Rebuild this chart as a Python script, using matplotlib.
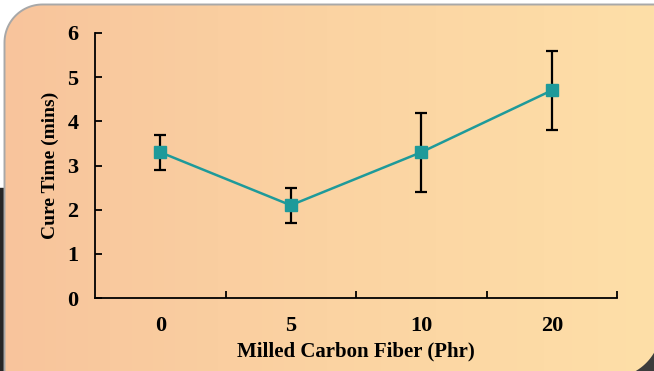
import numpy as np
import matplotlib.pyplot as plt
from matplotlib.patches import Polygon, Rectangle
from matplotlib.colors import LinearSegmentedColormap

# data
categories = ["0", "5", "10", "20"]
cure_time = [3.3, 2.1, 3.3, 4.7]
cure_err = [0.4, 0.4, 0.9, 0.9]
y_ticks = [0, 1, 2, 3, 4, 5, 6]

W, H = 654, 371
fig = plt.figure(figsize=(W / 100, H / 100), dpi=100)
fig.patch.set_facecolor("white")


def arc(cx, cy, r, a0, a1, n=30):
    t = np.radians(np.linspace(a0, a1, n))
    return np.column_stack([cx + r * np.cos(t), cy + r * np.sin(t)])


# background panel (pixel coords, y down) - round diagonal corner shape
L, T, R, B = 4.5, 4.5, 661, 378
r1, r2 = 38, 51
top_left = arc(L + r1, T + r1, r1, 180, 270)
bot_right = arc(R - r2, B - r2, r2, 0, 90)
outline = np.vstack([[[L, B + 5]], top_left, [[R + 5, T]], bot_right, [[L, B + 5]]])
outline_up = outline.copy()
outline_up[:, 1] = H - outline_up[:, 1]

bg = fig.add_axes([0, 0, 1, 1])
bg.axis("off")
bg.add_patch(Rectangle((-5, -5), 9.5, H - 188 + 5, color="#262626", zorder=0))
bg.add_patch(Rectangle((600, -5), 60, 60, color="#3c3c3c", zorder=0))

clip = Polygon(outline_up, closed=True, facecolor="none", edgecolor="none")
bg.add_patch(clip)
cmap = LinearSegmentedColormap.from_list("peach", ["#F8C49C", "#FBD3A2", "#FEDFA8"])
grad = np.linspace(0, 1, 256).reshape(1, -1)
im = bg.imshow(grad, extent=(0, W, 0, H), cmap=cmap, aspect="auto", zorder=1)
im.set_clip_path(clip)

edge = np.vstack([[[L, B + 5]], top_left, [[R + 5, T]]])
bg.plot(edge[:, 0], H - edge[:, 1], color="#a8a8a8", lw=1.4, zorder=2)
bg.set_xlim(0, W)
bg.set_ylim(0, H)

# main chart
font = {"family": "Liberation Serif", "weight": "bold", "size": 14}
ax = fig.add_axes([95 / W, 1 - 298 / H, (617 - 95) / W, (298 - 33) / H])
ax.patch.set_alpha(0)
x = np.arange(len(categories))
ax.errorbar(x, cure_time, yerr=cure_err, color="#1E9A9A", lw=1.8,
            marker="s", markersize=8.5, ecolor="black", elinewidth=1.6,
            capsize=4, capthick=1.6, zorder=3)

ax.set_xlim(-0.5, 3.5)
ax.set_ylim(0, 6)
ax.set_yticks(y_ticks)
ax.set_xticks(x)
ax.set_xticklabels(categories)
ax.set_xticks([0.5, 1.5, 2.5, 3.5], minor=True)
ax.tick_params(axis="x", which="major", length=0, pad=13)
ax.tick_params(axis="x", which="minor", direction="in", length=5, width=1.3)
ax.tick_params(axis="y", direction="in", length=5, width=1.3, pad=12)
for lab in ax.get_xticklabels() + ax.get_yticklabels():
    lab.set_fontproperties(font)
    lab.set_fontsize(16)

for s in ["top", "right"]:
    ax.spines[s].set_visible(False)
for s in ["left", "bottom"]:
    ax.spines[s].set_linewidth(1.3)

font_lab = dict(font, size=15)
ax.set_xlabel("Milled Carbon Fiber (Phr)", fontdict=font_lab, labelpad=4)
ax.set_ylabel("Cure Time (mins)", fontdict=font, labelpad=6)

fig.savefig("out.png", dpi=100)
